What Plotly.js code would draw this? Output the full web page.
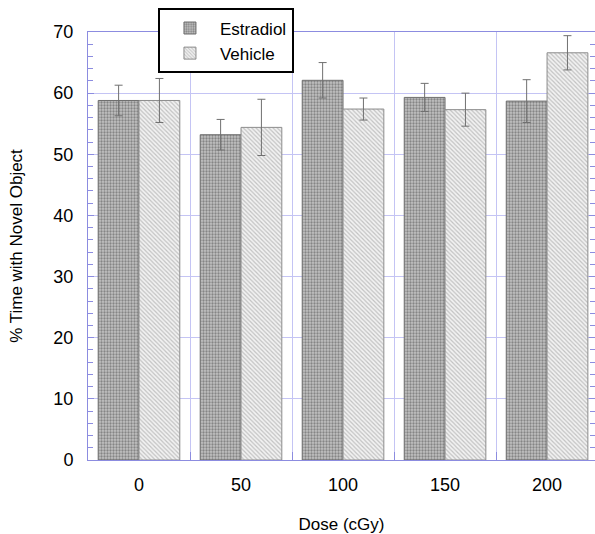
<!DOCTYPE html>
<html>
<head>
<meta charset="utf-8">
<script src="https://cdn.plot.ly/plotly-3.0.1.min.js"></script>
<style>html,body{margin:0;padding:0;background:#fff;overflow:hidden}</style>
</head>
<body>
<div id="chart" style="width:595px;height:534px"></div>
<script>
const doses = ["0", "50", "100", "150", "200"];
const estradiol = [58.8, 53.2, 62.1, 59.3, 58.7];
const estradiolErr = [2.5, 2.5, 2.9, 2.3, 3.5];
const vehicle = [58.8, 54.4, 57.4, 57.3, 66.6];
const vehicleErr = [3.6, 4.6, 1.8, 2.7, 2.8];
const yTicks = [0, 10, 20, 30, 40, 50, 60, 70];

const xIdx = doses.map((d, i) => i);
const fam = "Liberation Sans, Arial, sans-serif";

const traces = [
  {
    type: "bar", name: "Estradiol", x: xIdx, y: estradiol,
    error_y: {type: "data", array: estradiolErr, visible: true, color: "#707070", thickness: 1, width: 4},
    marker: {color: "#a8a8a8", line: {color: "#6e6e6e", width: 1},
      pattern: {shape: ".", fgcolor: "#858585", bgcolor: "#c2c2c2", size: 3, solidity: 0.45}}
  },
  {
    type: "bar", name: "Vehicle", x: xIdx, y: vehicle,
    error_y: {type: "data", array: vehicleErr, visible: true, color: "#707070", thickness: 1, width: 4},
    marker: {color: "#e0e0e0", line: {color: "#8c8c8c", width: 1},
      pattern: {shape: "\\", fgcolor: "#c2c2c2", bgcolor: "#f2f2f2", size: 3, solidity: 0.4}}
  }
];

const layout = {
  width: 595, height: 534,
  margin: {l: 88, r: 0, t: 32, b: 74},
  paper_bgcolor: "#fff", plot_bgcolor: "#fff",
  font: {family: fam, size: 16, color: "#000"},
  barmode: "group", bargap: 0.2, bargroupgap: 0,
  showlegend: true,
  legend: {
    x: 0.138, y: 1.055, xanchor: "left", yanchor: "top",
    bgcolor: "#fff", bordercolor: "#000", borderwidth: 2,
    font: {family: fam, size: 17, color: "#000"},
    traceorder: "normal", itemwidth: 50, tracegroupgap: 0
  },
  xaxis: {
    type: "linear", range: [-0.5, 4.47],
    tickvals: xIdx, ticktext: doses, ticks: "",
    showgrid: false, zeroline: false,
    showline: true, linecolor: "#8c8ce0", linewidth: 1, mirror: true,
    tickfont: {family: fam, size: 18, color: "#000"},
    ticklabelstandoff: 8,
    minor: {tickvals: [0.5, 1.5, 2.5, 3.5], showgrid: true, gridcolor: "#c4c4f4", gridwidth: 1,
      ticks: "inside", ticklen: 8, tickcolor: "#8c8ce0"},
    title: {text: "Dose (cGy)", font: {family: fam, size: 17, color: "#000"}, standoff: 26}
  },
  yaxis: {
    range: [0, 70], tickvals: yTicks, ticks: "inside", ticklen: 6, tickcolor: "#8c8ce0",
    showgrid: true, gridcolor: "#c4c4f4", gridwidth: 1, zeroline: false,
    showline: true, linecolor: "#8c8ce0", linewidth: 1, mirror: "ticks",
    minor: {dtick: 2, ticks: "inside", ticklen: 5, tickcolor: "#8c8ce0", showgrid: false},
    tickfont: {family: fam, size: 18, color: "#000"},
    ticklabelstandoff: 10,
    title: {text: "% Time with Novel Object", font: {family: fam, size: 17, color: "#000"}, standoff: 26}
  }
};

Plotly.newPlot("chart", traces, layout, {displayModeBar: false, staticPlot: true});
</script>
</body>
</html>
